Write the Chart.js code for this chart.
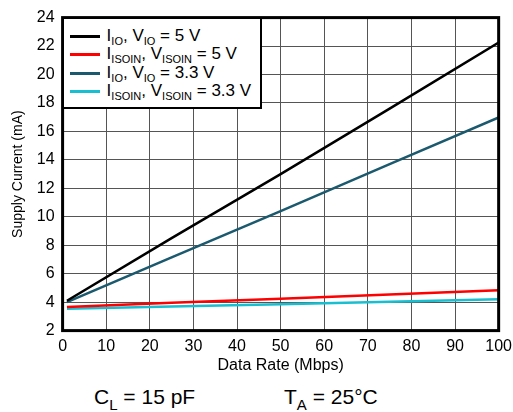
<!DOCTYPE html>
<html>
<head>
<meta charset="utf-8">
<script src="https://cdn.jsdelivr.net/npm/chart.js@4.4.0/dist/chart.umd.min.js"></script>
<style>
    body { margin: 0; background: #fff; font-family: "Liberation Sans", Arial, sans-serif; overflow: hidden; }
    #wrap { position: relative; width: 513px; height: 412px; overflow: hidden; }
    #box { position: absolute; left: 0; top: 0; width: 518px; height: 375px; }
    #legend { position: absolute; background: #fff; border: 2px solid #000; font-size: 17px; padding: 8px 9px 6px 6px; line-height: 18.5px; }
    #legend div { white-space: nowrap; }
    #legend span.ln { display: inline-block; width: 30px; height: 3px; vertical-align: middle; margin-right: 7px; }
    sub { font-size: 11px; vertical-align: -4px; line-height: 0; }
    .note { position: absolute; top: 385px; font-size: 21px; }
</style>
</head>
<body>
<div id="wrap">
    <div id="box"><canvas id="chart"></canvas></div>
    <div id="legend"></div>
    <div class="note" style="left:94px">C<sub style="font-size:15px;vertical-align:-6px">L</sub> = 15 pF</div>
    <div class="note" style="left:284px">T<sub style="font-size:15px;vertical-align:-6px">A</sub> = 25°C</div>
</div>
<script>
// data
const dataRate = [1, 25, 50, 75, 100];
const ioAt5V = [4.1, 8.5, 13.0, 17.6, 22.25];
const isoinAt5V = [3.66, 3.95, 4.24, 4.54, 4.83];
const ioAt33V = [4.0, 7.15, 10.4, 13.7, 16.98];
const isoinAt33V = [3.54, 3.70, 3.86, 4.03, 4.2];

const seriesNames = [
    'I<sub>IO</sub>, V<sub>IO</sub> = 5 V',
    'I<sub>ISOIN</sub>, V<sub>ISOIN</sub> = 5 V',
    'I<sub>IO</sub>, V<sub>IO</sub> = 3.3 V',
    'I<sub>ISOIN</sub>, V<sub>ISOIN</sub> = 3.3 V'
];
const seriesColors = ['#000000', '#ff0000', '#1b5a6e', '#17bfd0'];
const seriesValues = [ioAt5V, isoinAt5V, ioAt33V, isoinAt33V];

let toPoints = (vals) => vals.map((v, i) => ({x: dataRate[i], y: v}));

// frame round the plot area
let framePlugin = {
    id: 'frame',
    afterDraw: (chart) => {
        let a = chart.chartArea;
        let ctx = chart.ctx;
        ctx.save();
        ctx.strokeStyle = '#000';
        ctx.lineWidth = 3;
        ctx.strokeRect(a.left, a.top, a.right - a.left, a.bottom - a.top);
        ctx.restore();
    }
};

let family = '"Liberation Sans", Arial, sans-serif';

let chart = new Chart(document.getElementById('chart').getContext('2d'), {
    type: 'line',
    data: {
        datasets: seriesValues.map((vals, i) => ({
            label: seriesNames[i],
            data: toPoints(vals),
            borderColor: seriesColors[i],
            borderWidth: 2.5,
            pointRadius: 0,
            tension: 0
        }))
    },
    options: {
        responsive: true,
        maintainAspectRatio: false,
        animation: false,
        layout: {padding: {top: 3, right: 2, left: 10}},
        plugins: {legend: {display: false}, tooltip: {enabled: false}},
        scales: {
            x: {
                type: 'linear', min: 0, max: 100,
                ticks: {stepSize: 10, color: '#000', font: {family: family, size: 16}, padding: 6},
                grid: {color: '#555', lineWidth: 1, drawTicks: false},
                border: {display: false},
                title: {display: true, text: 'Data Rate (Mbps)', color: '#000', font: {family: family, size: 16}, padding: {top: -6, bottom: 0}}
            },
            y: {
                min: 2, max: 24,
                ticks: {stepSize: 2, color: '#000', font: {family: family, size: 16}, padding: 8},
                grid: {color: '#555', lineWidth: 1, drawTicks: false},
                border: {display: false},
                title: {display: true, text: 'Supply Current (mA)', color: '#000', font: {family: family, size: 14}, padding: {top: 0, bottom: 2}}
            }
        }
    },
    plugins: [framePlugin]
});

// legend with subscripts, placed at the top left of the plot area
let legend = document.getElementById('legend');
seriesNames.forEach((name, i) => {
    legend.innerHTML += '<div><span class="ln" style="background:' + seriesColors[i] + '"></span>' + name + '</div>';
});
let area = chart.chartArea;
legend.style.left = (area.left - 1) + 'px';
legend.style.top = (area.top - 1) + 'px';
</script>
</body>
</html>
